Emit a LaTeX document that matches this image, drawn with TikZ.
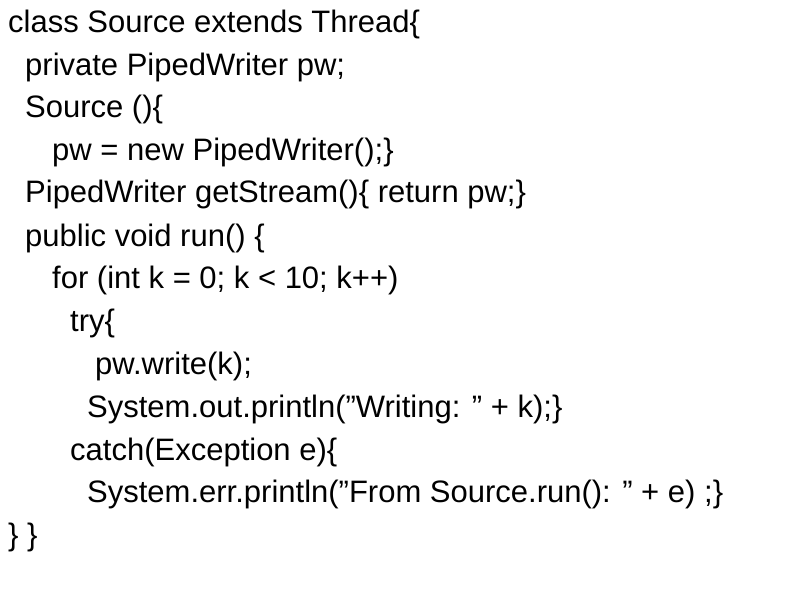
\documentclass[tikz,border=0pt]{standalone}
\usepackage{fontspec}
\setmainfont{Liberation Sans}
\tikzset{codeline/.style={anchor=base west, inner sep=0pt, font=\fontsize{31}{36}\selectfont}}
\begin{document}
\begin{tikzpicture}[x=1pt,y=-1pt]
  \useasboundingbox (0,0) rectangle (800,600);
  \node[codeline] (l1) at (8,32) {class Source extends Thread\{};
  \node[codeline] (l2) at (25,75) {private PipedWriter pw;};
  \node[codeline] (l3) at (25,117) {Source ()\{};
  \node[codeline] (l4) at (52,160) {pw = new PipedWriter();\}};
  \node[codeline] (l5) at (25,202) {PipedWriter getStream()\{ return pw;\}};
  \node[codeline] (l6) at (25,246) {public void run() \{};
  \node[codeline] (l7) at (52,288) {for (int k = 0; k < 10; k++)};
  \node[codeline] (l8) at (70,331) {try\{};
  \node[codeline] (l9) at (95,374) {pw.write(k);};
  \node[codeline] (l10) at (87,417) {System.out.println("Writing: " + k);\}};
  \node[codeline] (l11) at (70,460) {catch(Exception e)\{};
  \node[codeline] (l12) at (87,502) {System.err.println("From Source.run(): " + e) ;\}};
  \node[codeline] (l13) at (8,545) {\} \}};
\end{tikzpicture}
\end{document}
